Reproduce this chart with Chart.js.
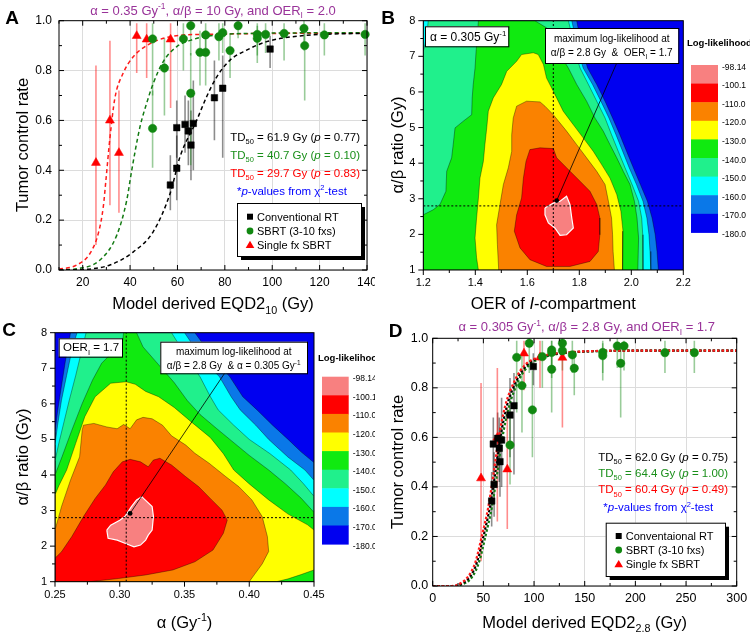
<!DOCTYPE html>
<html>
<head>
<meta charset="utf-8">
<title>Tumor control and log-likelihood maps</title>
<script src="https://cdn.jsdelivr.net/npm/chart.js@4.4.1/dist/chart.umd.min.js"></script>
<style>
  html, body { margin: 0; padding: 0; background: #fff; }
  #wrap { position: relative; width: 750px; height: 635px; overflow: hidden; }
  #wrap canvas { position: absolute; }
</style>
</head>
<body>
<div id="wrap">
  <canvas id="chartA" width="375" height="315" style="left:0;top:0"></canvas>
  <canvas id="chartB" width="375" height="315" style="left:375px;top:0"></canvas>
  <canvas id="chartC" width="375" height="320" style="left:0;top:315px"></canvas>
  <canvas id="chartD" width="375" height="320" style="left:375px;top:315px"></canvas>
</div>
<script>
const FONT = '"Liberation Sans", Arial, Helvetica, sans-serif';
const PURPLE = '#993399', GREEN = '#118811', GREEN_TXT = '#1a8f1a', RED = '#ff0000', BLUE_TXT = '#0000ff';

// ---------- tick labels ----------
const aXTicks = [20, 40, 60, 80, 100, 120, 140];
const dXTicks = [0, 50, 100, 150, 200, 250, 300];
const tcrTicks = [0, 0.2, 0.4, 0.6, 0.8, 1.0];
const bXTicks = [1.2, 1.4, 1.6, 1.8, 2.0, 2.2];
const cXTicks = [0.25, 0.30, 0.35, 0.40, 0.45];
const abTicks = [1, 2, 3, 4, 5, 6, 7, 8];

// ---------- Panel A: EQD2 with alpha/beta = 10 Gy ----------
const aConvX = [57, 59.7, 59.7, 63.2, 64.6, 65.7, 66.7, 75.6, 79.1, 99.1];
const aConvY = [0.341, 0.408, 0.571, 0.584, 0.558, 0.501, 0.588, 0.691, 0.729, 0.886];
const aConvLo = [0.24, 0.28, 0.45, 0.47, 0.42, 0.36, 0.40, 0.52, 0.45, 0.81];
const aConvHi = [0.46, 0.54, 0.68, 0.70, 0.68, 0.64, 0.76, 0.84, 0.86, 0.94];

const aSbrtX = [49.5, 49.5, 54.5, 62.5, 65.6, 65.6, 69.5, 71.9, 71.9, 77.5, 79.1, 82.2, 85.6, 93.7, 93.7, 97.2, 105, 113.4, 113.7, 122, 139.2];
const aSbrtY = [0.927, 0.568, 0.81, 0.927, 0.98, 0.709, 0.873, 0.873, 0.943, 0.936, 0.952, 0.88, 0.98, 0.945, 0.929, 0.945, 0.949, 0.969, 0.90, 0.943, 0.945];
const aSbrtLo = [0.70, 0.41, 0.62, 0.80, 0.86, 0.42, 0.74, 0.74, 0.86, 0.84, 0.87, 0.77, 0.93, 0.86, 0.83, 0.87, 0.84, 0.88, 0.68, 0.86, 0.86];
const aSbrtHi = [0.99, 0.72, 0.93, 0.99, 1.0, 0.87, 0.96, 0.96, 0.99, 0.99, 0.99, 0.95, 1.0, 0.99, 0.98, 0.99, 0.99, 1.0, 0.96, 0.99, 0.99];

const aSingleX = [25.6, 31.5, 35.3, 42.8, 47, 57.1];
const aSingleY = [0.43, 0.60, 0.47, 0.939, 0.925, 0.925];
const aSingleLo = [0.10, 0.26, 0.23, 0.79, 0.77, 0.65];
const aSingleHi = [0.82, 0.92, 0.72, 0.99, 0.99, 0.99];

const aFitConvX = [10, 20, 31.5, 41.4, 49.8, 57, 61.1, 68.1, 72.3, 76.6, 82.2, 89.2, 97.7, 111.7, 140];
const aFitConvY = [0, 0.002, 0.02, 0.073, 0.154, 0.31, 0.455, 0.60, 0.695, 0.775, 0.842, 0.882, 0.916, 0.939, 0.95];
const aFitSbrtX = [10, 17.7, 27.3, 34.4, 38.6, 40.7, 44.2, 47, 49.8, 54, 59.7, 66.7, 76.6, 90.6, 140];
const aFitSbrtY = [0, 0.005, 0.04, 0.14, 0.28, 0.40, 0.575, 0.669, 0.749, 0.836, 0.896, 0.925, 0.943, 0.949, 0.952];
const aFitSingleX = [10, 17.5, 23.1, 26.6, 28.7, 29.8, 31.5, 33.6, 37.1, 41.4, 47, 55.5, 69.5, 140];
const aFitSingleY = [0.003, 0.02, 0.067, 0.147, 0.254, 0.36, 0.53, 0.69, 0.79, 0.856, 0.90, 0.933, 0.945, 0.95];

const aTd50 = ['61.9', '40.7', '29.7'];
const aPval = ['0.77', '0.10', '0.83'];

// ---------- Panel D: EQD2 with alpha/beta = 2.8 Gy ----------
const dConvX = [58.2, 60.6, 59.8, 64.1, 65.7, 66.4, 68, 76.3, 80.2, 99.3];
const dConvY = [0.343, 0.41, 0.573, 0.596, 0.556, 0.502, 0.589, 0.69, 0.728, 0.886];
const dConvLo = [0.24, 0.28, 0.45, 0.47, 0.42, 0.36, 0.40, 0.52, 0.45, 0.81];
const dConvHi = [0.46, 0.54, 0.68, 0.70, 0.68, 0.64, 0.76, 0.84, 0.86, 0.94];

const dSbrtX = [82.9, 76.3, 88.1, 95.3, 98.4, 108.2, 117.4, 117.4, 117.4, 128, 128, 137.8, 139.7, 167.8, 167.8, 182.2, 185.5, 188.8, 229.2, 258.2];
const dSbrtY = [0.923, 0.569, 0.809, 0.98, 0.711, 0.926, 0.953, 0.943, 0.875, 0.98, 0.95, 0.933, 0.879, 0.943, 0.93, 0.969, 0.899, 0.969, 0.942, 0.942];
const dSbrtLo = [0.70, 0.41, 0.62, 0.86, 0.52, 0.80, 0.86, 0.84, 0.70, 0.93, 0.87, 0.86, 0.77, 0.86, 0.83, 0.88, 0.68, 0.87, 0.86, 0.86];
const dSbrtHi = [0.99, 0.72, 0.93, 1.0, 0.87, 0.99, 0.99, 0.99, 0.96, 1.0, 0.99, 0.99, 0.95, 0.99, 0.98, 1.0, 0.96, 0.99, 0.99, 0.99];

const dSingleX = [47.7, 63.8, 73.6, 90.1, 105.9, 128];
const dSingleY = [0.435, 0.599, 0.471, 0.939, 0.923, 0.922];
const dSingleLo = [0.10, 0.26, 0.23, 0.79, 0.80, 0.64];
const dSingleHi = [0.82, 0.88, 0.72, 0.99, 0.99, 0.99];

const dFitConvX = [0, 20, 25, 36.8, 44, 50, 56.5, 61.5, 66.4, 73, 82.9, 92.8, 109, 136, 200, 300];
const dFitConvY = [0, 0, 0.003, 0.038, 0.10, 0.20, 0.32, 0.45, 0.59, 0.724, 0.83, 0.892, 0.926, 0.943, 0.95, 0.95];
const dFitSbrtX = [0, 22, 27, 38.8, 46, 52, 58.5, 63.5, 68.4, 75, 84.9, 94.8, 111, 138, 200, 300];
const dFitSbrtY = [0, 0, 0.003, 0.036, 0.10, 0.20, 0.32, 0.45, 0.59, 0.72, 0.83, 0.89, 0.925, 0.943, 0.95, 0.95];
const dFitSingleX = [0, 18.4, 23.4, 35.2, 42.4, 48.4, 54.9, 59.9, 64.8, 71.4, 81.3, 91.2, 107.4, 134.4, 200, 300];
const dFitSingleY = [0, 0, 0.003, 0.04, 0.10, 0.20, 0.32, 0.45, 0.59, 0.725, 0.832, 0.893, 0.927, 0.944, 0.95, 0.95];

const dTd50 = ['62.0', '64.4', '60.4'];
const dPval = ['0.75', '1.00', '0.49'];

// ---------- Log-likelihood levels (B and C) ----------
const levelLabels = ['-98.14', '-100.1', '-110.0', '-120.0', '-130.0', '-140.0', '-150.0', '-160.0', '-170.0', '-180.0'];
const levelColors = ['#f88080', '#ff0000', '#fa8200', '#ffff00', '#10ea10', '#20f08c', '#00ffff', '#0a78e8', '#0000f0'];

// ---------- Panel B contours: [OER_I, alpha/beta] ----------
const bPeak = [[1.668,2.74],[1.700,2.88],[1.726,2.93],[1.751,3.07],[1.764,2.84],[1.771,2.46],[1.777,2.18],[1.751,1.99],[1.726,1.97],[1.706,2.18],[1.681,2.32],[1.668,2.55]];
const bAbove110 = [[1.610,4.38],[1.649,4.43],[1.700,4.41],[1.713,4.15],[1.751,3.87],[1.803,3.49],[1.841,3.21],[1.867,2.84],[1.879,2.46],[1.879,1.99],[1.873,1.52],[1.841,1.24],[1.764,1.10],[1.674,1.10],[1.610,1.29],[1.572,1.62],[1.550,2.09],[1.559,2.55],[1.578,3.02],[1.585,3.58],[1.595,4.05]];
const bAbove120 = [[1.49,1.0],[1.485,1.71],[1.482,2.27],[1.495,2.84],[1.508,3.40],[1.527,3.87],[1.540,4.33],[1.540,4.80],[1.546,5.27],[1.559,5.60],[1.597,5.74],[1.649,5.72],[1.668,5.60],[1.700,5.36],[1.751,4.90],[1.790,4.52],[1.828,4.15],[1.867,3.77],[1.899,3.40],[1.912,2.93],[1.924,2.46],[1.928,1.99],[1.93,1.52],[1.935,1.0]];
const bAbove130 = [[1.412,1.0],[1.405,1.34],[1.399,1.90],[1.405,2.46],[1.412,3.02],[1.418,3.58],[1.431,4.05],[1.437,4.52],[1.444,4.99],[1.450,5.46],[1.469,5.83],[1.501,6.21],[1.521,6.58],[1.559,6.86],[1.578,7.05],[1.623,7.10],[1.642,7.05],[1.662,6.77],[1.674,6.39],[1.700,6.02],[1.738,5.46],[1.777,5.08],[1.815,4.71],[1.854,4.33],[1.886,3.96],[1.918,3.58],[1.944,3.12],[1.960,2.65],[1.968,2.09],[1.968,1.52],[1.965,1.0]];
const bAbove140 = [[1.2,1.0],[2.025,1.0],[2.028,1.90],[2.022,2.46],[2.012,2.93],[1.995,3.40],[1.969,3.77],[1.944,4.15],[1.918,4.52],[1.892,4.90],[1.860,5.27],[1.828,5.74],[1.790,6.21],[1.758,6.67],[1.726,7.05],[1.700,7.52],[1.674,7.80],[1.629,8],[1.412,8],[1.408,7.61],[1.403,7.14],[1.399,6.67],[1.392,6.21],[1.388,5.83],[1.386,5.36],[1.354,5.18],[1.322,4.99],[1.315,4.52],[1.309,4.15],[1.290,3.77],[1.287,3.21],[1.264,2.84],[1.238,2.69],[1.2,2.55]];
const bAbove150 = [[1.2,1.0],[1.2,7.14],[1.206,7.33],[1.215,7.70],[1.219,8],[1.758,8],[1.771,7.61],[1.783,7.14],[1.803,6.67],[1.835,6.21],[1.867,5.74],[1.899,5.27],[1.924,4.80],[1.950,4.33],[1.976,3.87],[2.003,3.40],[2.028,2.93],[2.040,2.46],[2.044,1.99],[2.045,1.52],[2.045,1.0]];
const bAbove160 = [[1.2,1.0],[1.2,8],[1.771,8],[1.783,7.61],[1.796,7.14],[1.815,6.67],[1.851,6.21],[1.883,5.74],[1.914,5.27],[1.941,4.80],[1.967,4.33],[1.992,3.87],[2.020,3.40],[2.045,2.93],[2.060,2.46],[2.068,1.99],[2.072,1.52],[2.075,1.0]];
const bAbove170 = [[1.2,1.0],[1.2,8],[1.790,8],[1.800,7.61],[1.813,7.14],[1.832,6.67],[1.867,6.21],[1.899,5.74],[1.928,5.27],[1.956,4.80],[1.982,4.33],[2.008,3.87],[2.035,3.40],[2.062,2.93],[2.080,2.46],[2.092,1.99],[2.099,1.52],[2.104,1.0]];
const bBest = [1.7, 2.8];
const bPointer = [[1.713, 2.95], [1.944, 6.81]];

// ---------- Panel C contours: [alpha, alpha/beta] ----------
const cPeak = [[0.290,2.45],[0.293,2.59],[0.300,2.73],[0.304,2.83],[0.309,3.11],[0.313,3.30],[0.317,3.39],[0.321,3.25],[0.325,3.11],[0.326,2.83],[0.325,2.45],[0.322,2.31],[0.320,2.17],[0.316,2.03],[0.311,1.98],[0.304,2.08],[0.298,2.17],[0.291,2.22]];
const cAbove110 = [[0.25,1.0],[0.277,1.0],[0.299,1.09],[0.320,1.19],[0.341,1.33],[0.358,1.56],[0.372,1.89],[0.380,2.36],[0.383,2.73],[0.379,3.01],[0.371,3.30],[0.361,3.67],[0.351,3.95],[0.340,4.28],[0.331,4.47],[0.326,4.42],[0.322,4.23],[0.316,4.37],[0.308,4.44],[0.302,4.37],[0.295,4.09],[0.289,3.72],[0.281,3.34],[0.272,2.83],[0.263,2.27],[0.255,1.84],[0.25,1.66]];
const cAbove120 = [[0.25,1.0],[0.40,1.0],[0.404,1.2],[0.41,1.5],[0.415,1.85],[0.414,2.27],[0.410,2.83],[0.402,3.3],[0.392,3.67],[0.382,3.95],[0.369,4.33],[0.358,4.61],[0.351,4.84],[0.340,5.1],[0.333,5.4],[0.325,5.58],[0.318,5.62],[0.313,5.55],[0.308,5.3],[0.303,5.42],[0.298,5.3],[0.29,5.35],[0.28,5.45],[0.272,5.40],[0.271,5.26],[0.269,4.51],[0.262,3.86],[0.255,3.11],[0.25,2.45]];
const cAbove130 = [[0.25,1.0],[0.421,1.0],[0.43,1.08],[0.44,1.2],[0.45,1.33],[0.45,2.45],[0.445,2.6],[0.43,2.9],[0.415,3.3],[0.40,3.75],[0.388,4.14],[0.38,4.6],[0.37,5.05],[0.355,5.5],[0.342,5.9],[0.33,6.2],[0.32,6.35],[0.312,6.55],[0.305,6.62],[0.293,6.58],[0.281,6.2],[0.273,5.64],[0.266,4.89],[0.259,4.14],[0.253,3.7],[0.25,3.44]];
const cAbove140 = [[0.25,1.0],[0.45,1.0],[0.45,2.95],[0.44,3.35],[0.428,3.75],[0.415,4.14],[0.40,4.55],[0.385,5.0],[0.375,5.3],[0.362,5.7],[0.352,6.1],[0.342,6.6],[0.33,7.1],[0.318,7.6],[0.313,8],[0.303,8],[0.302,7.7],[0.297,7.55],[0.286,7.14],[0.279,6.67],[0.271,6.01],[0.263,5.26],[0.2554,4.51],[0.25,4.0]];
const cAbove150 = [[0.25,1.0],[0.45,1.0],[0.45,3.4],[0.442,3.75],[0.432,4.14],[0.416,4.6],[0.40,5.0],[0.388,5.4],[0.376,5.83],[0.370,6.2],[0.362,6.76],[0.352,7.3],[0.340,8],[0.274,8],[0.270,7.4],[0.266,6.8],[0.261,6.1],[0.257,5.5],[0.253,4.9],[0.25,4.4]];
const cAbove160 = [[0.25,1.0],[0.45,1.0],[0.45,3.85],[0.443,4.14],[0.43,4.5],[0.415,5.0],[0.405,5.4],[0.393,5.83],[0.386,6.2],[0.377,6.76],[0.363,7.3],[0.350,8],[0.267,8],[0.263,7.5],[0.259,6.8],[0.255,6.1],[0.252,5.4],[0.25,4.85]];
const cAbove170 = [[0.25,1.0],[0.45,1.0],[0.45,4.35],[0.44,4.65],[0.43,5.0],[0.418,5.4],[0.406,5.83],[0.395,6.2],[0.385,6.76],[0.372,7.3],[0.358,8],[0.262,8],[0.258,7.2],[0.255,6.5],[0.252,5.8],[0.25,5.2]];
const cBest = [0.305, 2.8];
const cPointer = [[0.308, 2.92], [0.381, 6.86]];

Chart.defaults.font.family = FONT;

// ---------- helpers ----------
const pts = (xs, ys) => xs.map((x, i) => ({ x, y: ys[i] }));
const ring = list => list.concat([list[0]]).map(([x, y]) => ({ x, y }));

// parts: ['text'] or ['text', 'i' | 'sub' | 'sup']; y is the middle of the line
function drawRich(ctx, parts, x, y, size, color, align = 'left', weight = '') {
  const segs = parts.map(([t, mode = '']) => {
    const small = mode === 'sub' || mode === 'sup';
    const font = [mode === 'i' ? 'italic' : '', weight, (small ? size * 0.65 : size) + 'px', FONT].filter(Boolean).join(' ');
    ctx.font = font;
    return { t, font, w: ctx.measureText(t).width, dy: mode === 'sub' ? size * 0.28 : mode === 'sup' ? -size * 0.42 : 0 };
  });
  const total = segs.reduce((s, g) => s + g.w, 0);
  let cx = align === 'center' ? x - total / 2 : align === 'right' ? x - total : x;
  ctx.save();
  ctx.fillStyle = color;
  ctx.textAlign = 'left';
  ctx.textBaseline = 'alphabetic';
  segs.forEach(g => { ctx.font = g.font; ctx.fillText(g.t, cx, y + size * 0.36 + g.dy); cx += g.w; });
  ctx.restore();
}

function drawRichVertical(ctx, parts, x, y, size, color) {
  ctx.save();
  ctx.translate(x, y);
  ctx.rotate(-Math.PI / 2);
  drawRich(ctx, parts, 0, 0, size, color, 'center');
  ctx.restore();
}

function textBox(ctx, x, y, w, h) {
  ctx.save();
  ctx.fillStyle = '#fff';
  ctx.fillRect(x, y, w, h);
  ctx.strokeStyle = '#000';
  ctx.lineWidth = 1;
  ctx.strokeRect(x + 0.5, y + 0.5, w, h);
  ctx.restore();
}

const tdLine = (td, p) => [['TD'], ['50', 'sub'], [` = ${td} Gy (`], ['p', 'i'], [` = ${p})`]];
const pNote = [['*'], ['p', 'i'], ['-values from χ'], ['2', 'sup'], ['-test']];

function legendBox(ctx, x, y, w, h, labels, rows) {
  ctx.save();
  ctx.fillStyle = '#000';
  ctx.fillRect(x + 4, y + 4, w, h);
  textBox(ctx, x, y, w, h);
  const colors = ['#000', GREEN, RED];
  labels.forEach((lab, i) => {
    const mx = x + 13, my = rows[i];
    ctx.fillStyle = colors[i];
    ctx.beginPath();
    if (i === 0) ctx.rect(mx - 3, my - 3, 6, 6);
    else if (i === 1) ctx.arc(mx, my, 3.4, 0, Math.PI * 2);
    else { ctx.moveTo(mx, my - 4.2); ctx.lineTo(mx + 4.3, my + 3); ctx.lineTo(mx - 4.3, my + 3); ctx.closePath(); }
    ctx.fill();
    drawRich(ctx, [[lab]], x + 20, my, 11, '#000');
  });
  ctx.restore();
}

function colorBar(ctx, left, top, width, boxH, titleX, titleY) {
  drawRich(ctx, [['Log-likelihood']], titleX, titleY, 9.5, '#000', 'left', 'bold');
  ctx.save();
  levelColors.forEach((c, i) => { ctx.fillStyle = c; ctx.fillRect(left, top + i * boxH, width, boxH + 0.5); });
  ctx.restore();
  levelLabels.forEach((l, i) => drawRich(ctx, [[l]], left + width + 4, top + i * boxH + 1.5, 8.5, '#000'));
}

// error bars drawn from dataset.errLo / errHi through the chart scales
const errorBarPlugin = {
  id: 'errorBars',
  beforeDatasetsDraw(chart) {
    const { ctx, chartArea: a, scales: { x, y } } = chart;
    ctx.save();
    ctx.beginPath();
    ctx.rect(a.left, a.top, a.width, a.height);
    ctx.clip();
    chart.data.datasets.forEach(ds => {
      if (!ds.errLo) return;
      ctx.strokeStyle = ds.errColor;
      ctx.lineWidth = 1.6;
      ds.data.forEach((p, j) => {
        const px = x.getPixelForValue(p.x);
        ctx.beginPath();
        ctx.moveTo(px, y.getPixelForValue(ds.errLo[j]));
        ctx.lineTo(px, y.getPixelForValue(ds.errHi[j]));
        ctx.stroke();
      });
    });
    ctx.restore();
  }
};

// plot frame with major / minor tick marks
const framePlugin = {
  id: 'frame',
  afterDatasetsDraw(chart, args, o) {
    const { ctx, chartArea: a, scales: { x, y } } = chart;
    const marks = (scale, minor, major) => {
      const out = [];
      const n = Math.round((scale.max - scale.min) / minor);
      for (let i = 0; i <= n; i++) {
        const v = scale.min + i * minor, q = v / major;
        out.push({ p: scale.getPixelForValue(v), len: Math.abs(q - Math.round(q)) < 1e-6 ? 5 : 3 });
      }
      return out;
    };
    ctx.save();
    ctx.strokeStyle = '#000';
    ctx.lineWidth = 1;
    ctx.beginPath();
    marks(x, o.xMinor, o.xMajor).forEach(({ p, len }) => {
      if (o.inward) { ctx.moveTo(p, a.bottom); ctx.lineTo(p, a.bottom - len); ctx.moveTo(p, a.top); ctx.lineTo(p, a.top + len); }
      else { ctx.moveTo(p, a.bottom); ctx.lineTo(p, a.bottom + len); }
    });
    marks(y, o.yMinor, o.yMajor).forEach(({ p, len }) => {
      if (o.inward) { ctx.moveTo(a.left, p); ctx.lineTo(a.left + len, p); ctx.moveTo(a.right, p); ctx.lineTo(a.right - len, p); }
      else { ctx.moveTo(a.left, p); ctx.lineTo(a.left - len, p); }
    });
    ctx.stroke();
    ctx.strokeRect(a.left, a.top, a.width, a.height);
    ctx.restore();
  }
};

const backgroundPlugin = {
  id: 'plotBackground',
  beforeDatasetsDraw(chart, args, o) {
    const { ctx, chartArea: a } = chart;
    ctx.save();
    ctx.fillStyle = o.color;
    ctx.fillRect(a.left, a.top, a.width, a.height);
    ctx.restore();
  }
};

function axes(o) {
  const tick = (dec, pad) => ({
    padding: pad, color: '#000', autoSkip: false, maxRotation: 0,
    font: { family: FONT, size: o.font },
    callback: v => Number(v).toFixed(dec)
  });
  const grid = { display: o.grid, color: '#dcdcdc', drawTicks: false, lineWidth: 1 };
  return {
    x: {
      type: 'linear', bounds: 'data', min: o.x[0], max: o.x[1],
      ticks: tick(o.xDec, o.xPad), grid, border: { display: false },
      afterBuildTicks: s => { s.ticks = o.xTicks.map(value => ({ value })); },
      afterFit: s => { s.height = o.xHeight; s.paddingLeft = 0; s.paddingRight = 0; }
    },
    y: {
      type: 'linear', bounds: 'data', min: o.y[0], max: o.y[1],
      ticks: tick(o.yDec, o.yPad), grid, border: { display: false },
      afterBuildTicks: s => { s.ticks = o.yTicks.map(value => ({ value })); },
      afterFit: s => { s.width = o.yWidth; s.paddingTop = 0; s.paddingBottom = 0; }
    }
  };
}

function baseOptions(ax, pad, frame, extra = {}) {
  return {
    responsive: false,
    animation: false,
    events: [],
    layout: { padding: pad },
    plugins: Object.assign({ legend: { display: false }, tooltip: { enabled: false }, frame }, extra),
    scales: axes(ax)
  };
}

const markerSet = (xs, ys, lo, hi, style, color, barColor, r) => ({
  data: pts(xs, ys), errLo: lo, errHi: hi, errColor: barColor,
  pointStyle: style, pointRadius: r, backgroundColor: color, borderColor: color, borderWidth: 0.5, clip: 6
});

const curveSet = (xs, ys, color, dash, w) => ({
  type: 'line', data: pts(xs, ys), showLine: true, fill: false, borderColor: color, borderWidth: w,
  borderDash: dash, pointRadius: 0, cubicInterpolationMode: 'monotone'
});

const contour = (list, color, edge = 'rgba(0,0,0,0.6)', w = 0.6) => ({
  type: 'line', data: ring(list), showLine: true, fill: 'shape', backgroundColor: color,
  borderColor: edge, borderWidth: w, pointRadius: 0, tension: 0
});

const guide = (list, dash, w, dot = 0) => ({
  type: 'line', data: list.map(([x, y]) => ({ x, y })), showLine: true, fill: false,
  borderColor: '#000', backgroundColor: '#000', borderWidth: w, borderDash: dash,
  pointRadius: list.map((p, i) => (i === 0 ? dot : 0)), pointBorderWidth: 0
});

// ---------- Panel A ----------
new Chart(document.getElementById('chartA'), {
  type: 'scatter',
  data: { datasets: [
    markerSet(aConvX, aConvY, aConvLo, aConvHi, 'rect', '#000', 'rgba(0,0,0,0.45)', 4.6),
    markerSet(aSbrtX, aSbrtY, aSbrtLo, aSbrtHi, 'circle', GREEN, 'rgba(0,128,0,0.4)', 4.2),
    markerSet(aSingleX, aSingleY, aSingleLo, aSingleHi, 'triangle', RED, 'rgba(255,0,0,0.45)', 5.2),
    curveSet(aFitConvX, aFitConvY, '#000', [4, 3], 1.5),
    curveSet(aFitSbrtX, aFitSbrtY, '#127a12', [4, 3], 1.5),
    curveSet(aFitSingleX, aFitSingleY, '#ff1a1a', [4, 3], 1.5)
  ]},
  options: baseOptions(
    { x: [10, 140], xTicks: aXTicks, xDec: 0, y: [0, 1], yTicks: tcrTicks, yDec: 1,
      xPad: 5, yPad: 7, xHeight: 45, yWidth: 59, font: 12, grid: true },
    { left: 0, right: 8, top: 20.7, bottom: 0 },
    { inward: true, xMinor: 10, xMajor: 20, yMinor: 0.1, yMajor: 0.2 }
  ),
  plugins: [errorBarPlugin, framePlugin, {
    id: 'textA',
    afterDraw(chart) {
      const ctx = chart.ctx;
      drawRich(ctx, [['A']], 12, 17, 19, '#000', 'center', 'bold');
      drawRich(ctx, [['α = 0.35 Gy'], ['-1', 'sup'], [', α/β = 10 Gy, and OER'], ['I', 'sub'], [' = 2.0']], 213, 10, 13, PURPLE, 'center');
      const colors = ['#000', GREEN_TXT, RED];
      [137, 155, 172.7].forEach((y, i) => drawRich(ctx, tdLine(aTd50[i], aPval[i]), 360, y, 11.5, colors[i], 'right'));
      drawRich(ctx, pNote, 237, 190.5, 11.5, BLUE_TXT);
      legendBox(ctx, 237, 203, 124, 53, ['Conventional RT', 'SBRT (3-10 fxs)', 'Single fx SBRT'], [216.7, 231, 245]);
      drawRich(ctx, [['Model derived EQD2'], ['10', 'sub'], [' (Gy)']], 213, 303, 16.5, '#000', 'center');
      drawRichVertical(ctx, [['Tumor control rate']], 22, 145, 16.5, '#000');
    }
  }]
});

// ---------- Panel B ----------
new Chart(document.getElementById('chartB'), {
  type: 'scatter',
  data: { datasets: [
    guide(bPointer, [], 0.8, 2.4),
    guide([[bBest[0], 1], [bBest[0], 8]], [2, 2], 1),
    guide([[1.2, bBest[1]], [2.2, bBest[1]]], [2, 2], 1),
    contour(bPeak, levelColors[0], '#ffffff', 1.2),
    contour(bAbove110, levelColors[1]),
    contour(bAbove120, levelColors[2]),
    contour(bAbove130, levelColors[3]),
    contour(bAbove140, levelColors[4]),
    contour(bAbove150, levelColors[5]),
    contour(bAbove160, levelColors[6]),
    contour(bAbove170, levelColors[7])
  ]},
  options: baseOptions(
    { x: [1.2, 2.2], xTicks: bXTicks, xDec: 1, y: [1, 8], yTicks: abTicks, yDec: 0,
      xPad: 6.5, yPad: 8, xHeight: 45, yWidth: 48.3, font: 11, grid: false },
    { left: 0, right: 66.7, top: 20.7, bottom: 0 },
    { inward: false, xMinor: 0.1, xMajor: 0.2, yMinor: 0.5, yMajor: 1 },
    { plotBackground: { color: levelColors[8] } }
  ),
  plugins: [backgroundPlugin, framePlugin, {
    id: 'textB',
    afterDraw(chart) {
      const ctx = chart.ctx;
      drawRich(ctx, [['B']], 13, 17, 19, '#000', 'center', 'bold');
      textBox(ctx, 50, 26.3, 83.3, 20);
      drawRich(ctx, [['α = 0.305 Gy'], ['-1', 'sup']], 55, 36.5, 12, '#000');
      textBox(ctx, 170, 28, 133.3, 35);
      drawRich(ctx, [['maximum log-likelihood at']], 236.7, 38.5, 10, '#000', 'center');
      drawRich(ctx, [['α/β = 2.8 Gy  &  OER'], ['I', 'sub'], [' = 1.7']], 236.7, 52.5, 10, '#000', 'center');
      colorBar(ctx, 316, 65, 27, 18.6, 312, 43);
      drawRich(ctx, [['OER of '], ['I', 'i'], ['-compartment']], 178.3, 303, 16.5, '#000', 'center');
      drawRichVertical(ctx, [['α/β ratio (Gy)']], 22, 145, 16.5, '#000');
    }
  }]
});

// ---------- Panel C ----------
new Chart(document.getElementById('chartC'), {
  type: 'scatter',
  data: { datasets: [
    guide(cPointer, [], 0.8, 2.4),
    guide([[cBest[0], 1], [cBest[0], 8]], [2, 2], 1),
    guide([[0.25, cBest[1]], [0.45, cBest[1]]], [2, 2], 1),
    contour(cPeak, levelColors[0], '#ffffff', 1.2),
    contour(cAbove110, levelColors[1]),
    contour(cAbove120, levelColors[2]),
    contour(cAbove130, levelColors[3]),
    contour(cAbove140, levelColors[4]),
    contour(cAbove150, levelColors[5]),
    contour(cAbove160, levelColors[6]),
    contour(cAbove170, levelColors[7])
  ]},
  options: baseOptions(
    { x: [0.25, 0.45], xTicks: cXTicks, xDec: 2, y: [1, 8], yTicks: abTicks, yDec: 0,
      xPad: 6.5, yPad: 8, xHeight: 53.3, yWidth: 55, font: 11, grid: false },
    { left: 0, right: 61, top: 17.7, bottom: 0 },
    { inward: false, xMinor: 0.025, xMajor: 0.05, yMinor: 0.5, yMajor: 1 },
    { plotBackground: { color: levelColors[8] } }
  ),
  plugins: [backgroundPlugin, framePlugin, {
    id: 'textC',
    afterDraw(chart) {
      const ctx = chart.ctx;
      drawRich(ctx, [['C']], 9, 14, 19, '#000', 'center', 'bold');
      textBox(ctx, 58.7, 23.3, 63.3, 18.4);
      drawRich(ctx, [['OER'], ['I', 'sub'], [' = 1.7']], 63, 32.3, 11.5, '#000');
      textBox(ctx, 160.3, 26.7, 146.7, 31.6);
      drawRich(ctx, [['maximum log-likelihood at']], 233.7, 36.7, 10, '#000', 'center');
      drawRich(ctx, [['α/β = 2.8 Gy  & α = 0.305 Gy'], ['-1', 'sup']], 233.7, 50.3, 10, '#000', 'center');
      colorBar(ctx, 322, 61.7, 26.7, 18.6, 318, 42.7);
      drawRich(ctx, [['α (Gy'], ['-1', 'sup'], [')']], 184.5, 306.7, 16.5, '#000', 'center');
      drawRichVertical(ctx, [['α/β ratio (Gy)']], 22, 142, 16.5, '#000');
    }
  }]
});

// ---------- Panel D ----------
new Chart(document.getElementById('chartD'), {
  type: 'scatter',
  data: { datasets: [
    markerSet(dConvX, dConvY, dConvLo, dConvHi, 'rect', '#000', 'rgba(0,0,0,0.45)', 4.6),
    markerSet(dSbrtX, dSbrtY, dSbrtLo, dSbrtHi, 'circle', GREEN, 'rgba(0,128,0,0.4)', 4.2),
    markerSet(dSingleX, dSingleY, dSingleLo, dSingleHi, 'triangle', RED, 'rgba(255,0,0,0.45)', 5.2),
    curveSet(dFitSingleX, dFitSingleY, '#ff1a1a', [2.5, 2], 2.2),
    curveSet(dFitConvX, dFitConvY, '#000', [2.5, 2], 2.2),
    curveSet(dFitSbrtX, dFitSbrtY, '#127a12', [2.5, 2], 2.2)
  ]},
  options: baseOptions(
    { x: [0, 300], xTicks: dXTicks, xDec: 0, y: [0, 1], yTicks: tcrTicks, yDec: 1,
      xPad: 5, yPad: 4.5, xHeight: 49, yWidth: 57.7, font: 12.5, grid: true },
    { left: 0, right: 13.3, top: 23.3, bottom: 0 },
    { inward: true, xMinor: 25, xMajor: 50, yMinor: 0.1, yMajor: 0.2 }
  ),
  plugins: [errorBarPlugin, framePlugin, {
    id: 'textD',
    afterDraw(chart) {
      const ctx = chart.ctx;
      drawRich(ctx, [['D']], 20.5, 15, 19, '#000', 'center', 'bold');
      drawRich(ctx, [['α = 0.305 Gy'], ['-1', 'sup'], [', α/β = 2.8 Gy, and OER'], ['I', 'sub'], [' = 1.7']], 211.7, 11.7, 13, PURPLE, 'center');
      const colors = ['#000', GREEN_TXT, RED];
      [141.7, 157.7, 174.3].forEach((y, i) => drawRich(ctx, tdLine(dTd50[i], dPval[i]), 353, y, 11.5, colors[i], 'right'));
      drawRich(ctx, pNote, 228.3, 192.3, 11.5, BLUE_TXT);
      legendBox(ctx, 230.7, 207.7, 119.3, 53.3, ['Conventaional RT', 'SBRT (3-10 fxs)', 'Single fx SBRT'], [221, 235, 249.3]);
      drawRich(ctx, [['Model derived EQD2'], ['2.8', 'sub'], [' (Gy)']], 209.7, 306.7, 16.5, '#000', 'center');
      drawRichVertical(ctx, [['Tumor control rate']], 22, 147, 16.5, '#000');
    }
  }]
});
</script>
</body>
</html>
